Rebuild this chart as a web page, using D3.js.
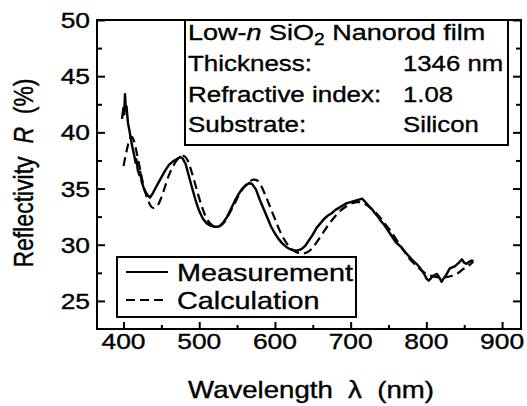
<!DOCTYPE html>
<html><head><meta charset="utf-8">
<script src="https://cdn.jsdelivr.net/npm/d3@7"></script>
<style>
html,body{margin:0;padding:0;background:#fff;}
svg{display:block;font-family:"Liberation Sans",Arial,sans-serif;}
text{white-space:pre;}
</style></head><body>
<svg id="c" width="527" height="406"></svg>
<script>
// ---------- data ----------
const measWl = [398,400,401,402,403,404,406,408,410,412,414,416,417,419,421,422,424,426,428,430,432,435,438,442,446,450,455,460,465,470,475,478,482,486,490,495,500,505,510,515,520,525,528,532,537,542,547,552,557,562,566,570,575,580,585,590,595,600,605,610,615,620,625,630,635,640,645,650,655,660,665,670,675,680,685,690,695,700,705,710,715,718,722,726,729,732,736,740,744,748,752,756,760,765,770,774,778,782,787,792,795,798,800,803,806,808,811,814,817,820,823,826,831,835,838,843,847,850,853,857,860,862];
const measR  = [41.2,42.2,41.6,43.4,42.0,42.3,40.8,40.1,39.3,38.6,38.0,37.3,37.6,36.6,36.2,36.5,35.6,35.2,34.8,34.6,34.4,34.2,34.5,35.0,35.5,36.0,36.6,37.1,37.4,37.6,37.8,37.7,37.2,36.2,35.2,34.0,33.0,32.3,31.9,31.7,31.6,31.6,31.7,32.0,32.5,33.2,33.9,34.5,35.0,35.3,35.5,35.4,34.9,34.0,33.2,32.4,31.6,31.0,30.5,30.1,29.8,29.6,29.5,29.5,29.6,29.9,30.4,30.9,31.5,31.9,32.3,32.6,32.8,33.1,33.3,33.5,33.7,33.8,33.9,34.0,34.1,33.9,33.6,33.3,33.1,32.8,32.5,32.1,31.8,31.4,31.0,30.6,30.2,29.9,29.5,29.2,28.9,28.6,28.3,27.9,27.6,27.3,27.0,26.8,27.0,27.2,27.3,27.4,27.1,26.7,27.0,27.3,27.9,28.0,28.1,28.4,28.7,28.4,28.3,28.5,28.6,28.5];

const calcWl = [400,403,406,409,411,414,418,422,426,430,434,438,442,446,450,455,460,465,470,475,480,484,488,493,498,503,508,513,518,523,528,533,540,547,554,560,566,572,577,582,588,594,600,606,612,618,624,630,636,642,648,655,662,670,678,686,694,702,710,717,724,731,738,745,752,760,768,776,784,792,800,808,816,824,832,840,848,855,862];
const calcR  = [37.0,38.0,38.9,39.5,39.6,39.2,38.0,36.7,35.4,34.4,33.7,33.3,33.3,33.6,34.2,35.2,36.2,36.9,37.5,37.8,37.9,37.6,36.9,35.8,34.6,33.5,32.6,32.0,31.7,31.6,31.7,32.0,32.8,33.7,34.6,35.2,35.6,35.8,35.7,35.2,34.3,33.3,32.3,31.3,30.5,29.9,29.5,29.3,29.2,29.3,29.6,30.2,30.9,31.7,32.4,33.0,33.4,33.7,33.8,33.7,33.4,33.0,32.5,31.9,31.3,30.5,29.7,28.9,28.3,27.8,27.4,27.2,27.1,27.1,27.2,27.4,27.8,28.1,28.5];

const xTicks = [400,500,600,700,800,900];
const xMinor = [450,550,650,750,850];
const yTicks = [25,30,35,40,45,50];
const yMinor = [27.5,32.5,37.5,42.5,47.5];
const seriesNames = ["Measurement","Calculation"];
const infoLabels = ["Thickness:","Refractive index:","Substrate:"];
const infoValues = ["1346 nm","1.08","Silicon"];

// ---------- layout ----------
const SX = 1.2; // horizontal text stretch
const svg = d3.select("#c");
const L=97, R=521, T=20, B=329;
const x = d3.scaleLinear().domain([365,925]).range([L,R]);
const y = d3.scaleLinear().domain([22.5,50]).range([B,T]);

function label(g, px, py, anchor, size, sx){
  return g.append("g").attr("transform",`translate(${px},${py})`)
    .append("text").attr("transform",`scale(${sx||SX},1)`)
    .attr("text-anchor",anchor).attr("font-size",size).attr("fill","#000")
    .attr("stroke","#000").attr("stroke-width",0.35);
}

// ticks via axes (inward)
const axG = svg.append("g");
function addAxis(ax, tr){
  const g = axG.append("g").attr("transform",tr).call(ax);
  g.select(".domain").remove();
  g.selectAll(".tick line").attr("stroke","#000").attr("stroke-width",2);
  g.selectAll("text").remove();
}
addAxis(d3.axisLeft(y).tickValues(yTicks).tickSize(-8).tickFormat(""),`translate(${L},0)`);
addAxis(d3.axisLeft(y).tickValues(yMinor).tickSize(-5).tickFormat(""),`translate(${L},0)`);
addAxis(d3.axisRight(y).tickValues(yTicks).tickSize(-8).tickFormat(""),`translate(${R},0)`);
addAxis(d3.axisRight(y).tickValues(yMinor).tickSize(-5).tickFormat(""),`translate(${R},0)`);
addAxis(d3.axisBottom(x).tickValues(xTicks).tickSize(-7).tickFormat(""),`translate(0,${B})`);
addAxis(d3.axisBottom(x).tickValues(xMinor).tickSize(-4).tickFormat(""),`translate(0,${B})`);

// frame
svg.append("rect").attr("x",L).attr("y",T).attr("width",R-L).attr("height",B-T)
  .attr("fill","none").attr("stroke","#000").attr("stroke-width",2);

// tick labels
yTicks.forEach(v=>{ label(svg, L-7, y(v)+8, "end", 22).text(v); });
xTicks.forEach(v=>{ label(svg, x(v), 349, "middle", 22).text(v); });

// axis titles
const xt = label(svg, 311, 398, "middle", 23);
xt.append("tspan").text("Wavelength  λ  (nm)");
const ytg = svg.append("g").attr("transform",`translate(33,173) scale(${SX},1) rotate(-90)`);
const yt = ytg.append("text").attr("text-anchor","middle").attr("font-size",23)
  .attr("stroke","#000").attr("stroke-width",0.35);
yt.append("tspan").text("Reflectivity  ");
yt.append("tspan").attr("font-style","italic").text("R");
yt.append("tspan").text("  (%)");

// curves
const meas = measWl.map((w,i)=>[w,measR[i]]);
const calc = calcWl.map((w,i)=>[w,calcR[i]]);
svg.append("path").datum(calc)
  .attr("d",d3.line().x(d=>x(d[0])).y(d=>y(d[1])).curve(d3.curveCatmullRom))
  .attr("fill","none").attr("stroke","#000").attr("stroke-width",2.2).attr("stroke-dasharray","9,5");
svg.append("path").datum(meas).attr("d",d3.line().x(d=>x(d[0])).y(d=>y(d[1]))).attr("fill","none")
  .attr("stroke","#000").attr("stroke-width",2.4).attr("stroke-linejoin","round");

// info box
svg.append("rect").attr("x",185).attr("y",T).attr("width",323).attr("height",125)
  .attr("fill","#fff").attr("stroke","#000").attr("stroke-width",2);
const t1 = label(svg, 188, 40, "start", 22.5, 1.2);
t1.append("tspan").text("Low-");
t1.append("tspan").attr("font-style","italic").text("n");
t1.append("tspan").text(" SiO");
t1.append("tspan").attr("font-size",16).attr("dy",5).text("2");
t1.append("tspan").attr("dy",-5).text(" Nanorod film");
infoLabels.forEach((s,i)=>{
  label(svg, 188, 71+i*30.5, "start", 22, 1.18).text(s);
  label(svg, 403, 71+i*30.5, "start", 22, 1.17).text(infoValues[i]);
});

// legend
svg.append("rect").attr("x",117).attr("y",257).attr("width",239).attr("height",60)
  .attr("fill","#fff").attr("stroke","#000").attr("stroke-width",2);
const legY = [272,300];
seriesNames.forEach((s,i)=>{
  svg.append("line").attr("x1",126).attr("x2",168).attr("y1",legY[i]).attr("y2",legY[i])
    .attr("stroke","#000").attr("stroke-width",2.2).attr("stroke-dasharray",i? "9,5":null);
  label(svg, 177, legY[i]+9, "start", 24).text(s);
});
</script></body></html>
